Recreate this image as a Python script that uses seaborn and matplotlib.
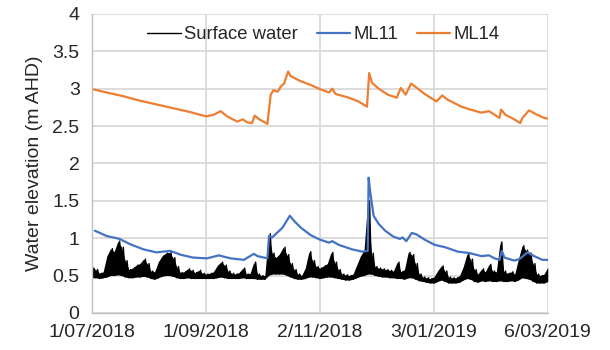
import numpy as np
import pandas as pd
import matplotlib
matplotlib.use("Agg")
import matplotlib.pyplot as plt
from matplotlib.ticker import FixedLocator, FuncFormatter
import seaborn as sns

# ---- data -------------------------------------------------------------
start_date = pd.Timestamp("2018-07-01")

# Surface water: envelope of the tidal signal, every 2 days (m AHD)
sw_days = list(range(0, 250, 2))
sw_high = [0.60, 0.58, 0.53, 0.55, 0.76, 0.86, 0.82, 0.96, 0.88, 0.70,
           0.58, 0.60, 0.64, 0.66, 0.72, 0.66, 0.56, 0.55, 0.68, 0.76,
           0.80, 0.81, 0.74, 0.62, 0.54, 0.55, 0.59, 0.57, 0.54, 0.57,
           0.53, 0.52, 0.53, 0.55, 0.63, 0.68, 0.64, 0.56, 0.53, 0.52,
           0.54, 0.60, 0.52, 0.53, 0.68, 0.52, 0.50, 0.50, 1.06, 0.80,
           0.74, 0.79, 0.88, 0.78, 0.66, 0.58, 0.52, 0.50, 0.60, 0.82,
           0.70, 0.62, 0.60, 0.63, 0.66, 0.81, 0.68, 0.58, 0.52, 0.51,
           0.50, 0.52, 0.64, 0.76, 0.84, 1.50, 0.80, 0.62, 0.60, 0.59,
           0.58, 0.57, 0.56, 0.68, 0.55, 0.58, 0.81, 0.78, 0.66, 0.52,
           0.48, 0.47, 0.46, 0.48, 0.56, 0.63, 0.56, 0.48, 0.47, 0.47,
           0.50, 0.62, 0.79, 0.72, 0.58, 0.52, 0.59, 0.55, 0.65, 0.56,
           0.55, 0.95, 0.56, 0.53, 0.55, 0.52, 0.72, 0.90, 0.84, 0.80,
           0.66, 0.52, 0.50, 0.52, 0.61]
sw_low = [0.47, 0.47, 0.46, 0.47, 0.48, 0.50, 0.50, 0.51, 0.50, 0.48,
          0.47, 0.47, 0.48, 0.48, 0.49, 0.48, 0.46, 0.45, 0.47, 0.49,
          0.50, 0.50, 0.49, 0.47, 0.46, 0.46, 0.47, 0.46, 0.46, 0.46,
          0.46, 0.46, 0.46, 0.46, 0.47, 0.48, 0.47, 0.46, 0.46, 0.46,
          0.46, 0.47, 0.46, 0.46, 0.46, 0.45, 0.45, 0.45, 0.50, 0.52,
          0.52, 0.52, 0.52, 0.50, 0.48, 0.46, 0.45, 0.45, 0.46, 0.48,
          0.48, 0.47, 0.46, 0.47, 0.48, 0.48, 0.47, 0.46, 0.45, 0.44,
          0.44, 0.45, 0.47, 0.49, 0.50, 0.52, 0.52, 0.50, 0.49, 0.48,
          0.48, 0.47, 0.47, 0.46, 0.46, 0.45, 0.47, 0.47, 0.45, 0.43,
          0.42, 0.41, 0.40, 0.40, 0.42, 0.44, 0.42, 0.40, 0.40, 0.40,
          0.41, 0.44, 0.46, 0.45, 0.42, 0.41, 0.43, 0.42, 0.43, 0.42,
          0.42, 0.43, 0.42, 0.42, 0.43, 0.42, 0.44, 0.47, 0.46, 0.45,
          0.42, 0.40, 0.40, 0.40, 0.42]

# ML11 bore
ml11_days = [1.5, 3.3, 7.8, 13.3, 15, 20.6, 28, 35, 42.5, 48, 55, 62.6, 69,
             75.3, 82.6, 88, 90, 95.4, 96.3, 98, 101, 103.6, 107.6, 110,
             113.6, 119, 124, 129, 130.7, 134.3, 141.5, 147, 150, 150.5,
             151.4, 153.2, 156, 159.5, 164, 167.6, 168.9, 171, 174, 176.6,
             181, 186.5, 192, 199, 205.5, 211.8, 216, 219, 221.7, 223,
             224.4, 229.8, 232.5, 237, 240.6, 245, 248]
ml11_vals = [1.10, 1.08, 1.03, 1.00, 0.99, 0.92, 0.85, 0.81, 0.83, 0.78,
             0.74, 0.73, 0.77, 0.73, 0.71, 0.79, 0.76, 0.73, 1.03, 1.01,
             1.08, 1.14, 1.30, 1.23, 1.14, 1.04, 0.98, 0.94, 0.96, 0.91,
             0.85, 0.82, 0.83, 1.81, 1.61, 1.30, 1.19, 1.10, 1.02, 0.99,
             1.01, 0.96, 1.07, 1.05, 0.98, 0.91, 0.88, 0.82, 0.80, 0.76,
             0.77, 0.73, 0.71, 0.83, 0.74, 0.70, 0.72, 0.81, 0.76, 0.71,
             0.71]

# ML14 bore
ml14_days = [1, 6, 17, 26, 35, 44, 53, 62, 66, 70, 73.5, 79, 82, 84.5, 87,
             88.5, 91, 95.4, 97.2, 98.7, 101, 102.7, 104.5, 105.4, 106.7,
             108, 113.6, 119, 124.5, 129, 130.7, 132.5, 139.7, 145, 149.6,
             150.8, 152.3, 156, 161, 165.8, 168, 170.7, 173.6, 175.7, 181,
             187.4, 190.5, 193.7, 201, 206, 211.8, 216, 221.7, 222.6, 225,
             229.8, 233, 234.2, 237.8, 242.3, 246, 248]
ml14_vals = [2.99, 2.96, 2.90, 2.84, 2.79, 2.74, 2.69, 2.63, 2.65, 2.70,
             2.63, 2.56, 2.59, 2.55, 2.54, 2.64, 2.59, 2.53, 2.92, 2.98,
             2.96, 3.03, 3.07, 3.14, 3.23, 3.17, 3.10, 3.05, 2.99, 2.95,
             3.00, 2.93, 2.88, 2.83, 2.76, 3.21, 3.08, 3.00, 2.92, 2.88,
             3.01, 2.92, 3.07, 3.03, 2.93, 2.83, 2.91, 2.85, 2.76, 2.72,
             2.68, 2.70, 2.61, 2.72, 2.65, 2.59, 2.54, 2.61, 2.71, 2.65,
             2.61, 2.60]

tick_dates = ["2018-07-01", "2018-09-01", "2018-11-02", "2019-01-03", "2019-03-06"]
tick_labels = ["1/07/2018", "1/09/2018", "2/11/2018", "3/01/2019", "6/03/2019"]
y_ticks = [0, 0.5, 1, 1.5, 2, 2.5, 3, 3.5, 4]

# ---- frames -----------------------------------------------------------
def to_dates(days):
    return start_date + pd.to_timedelta(days, unit="D")

# Tidal trace: each low is followed by the high a day later
sw_trace_days, sw_trace_vals = [], []
for d, lo, hi in zip(sw_days, sw_low, sw_high):
    sw_trace_days += [d, d + 1]
    sw_trace_vals += [lo, hi]
sw_env = pd.DataFrame({"date": to_dates(sw_days), "low": sw_low, "high": sw_high})
sw = pd.DataFrame({"date": to_dates(sw_trace_days), "level": sw_trace_vals})
ml11 = pd.DataFrame({"date": to_dates(ml11_days), "level": ml11_vals})
ml14 = pd.DataFrame({"date": to_dates(ml14_days), "level": ml14_vals})

# ---- style ------------------------------------------------------------
sns.set_theme(style="white")
plt.rcParams["font.family"] = ["Liberation Sans", "DejaVu Sans"]
FS = 14
grid_c = "#d9d9d9"

fig = plt.figure(figsize=(6.1, 3.5), dpi=100)
ax = fig.add_axes([0.151, 0.106, 0.747, 0.854])

black, blue, orange = "#000000", "#4472C4", "#ED7D31"

# dense tidal band plus the raw trace on top
ax.fill_between(sw_env["date"], sw_env["low"], sw_env["high"],
                color=black, lw=0, zorder=2)
sns.lineplot(data=sw, x="date", y="level", color=black, lw=1.0, ax=ax,
             label="Surface water", zorder=2, sort=False)
sns.lineplot(data=ml11, x="date", y="level", color=blue, lw=1.6, ax=ax,
             label="ML11", zorder=3)
sns.lineplot(data=ml14, x="date", y="level", color=orange, lw=1.6, ax=ax,
             label="ML14", zorder=3)

# ---- axes -------------------------------------------------------------
x0, x1 = pd.Timestamp(tick_dates[0]), pd.Timestamp(tick_dates[-1])
ax.set_xlim(x0, x1)
ax.set_ylim(0, 4)
ax.set_xticks(pd.to_datetime(tick_dates))
ax.set_xticklabels(tick_labels, fontsize=FS)
ax.yaxis.set_major_locator(FixedLocator(y_ticks))
ax.yaxis.set_major_formatter(FuncFormatter(lambda v, p: f"{v:g}"))
ax.tick_params(axis="y", labelsize=FS, length=0, pad=9)
ax.tick_params(axis="x", labelsize=FS, length=0, pad=8)
ax.set_xlabel("")
ax.set_ylabel("Water elevation (m AHD)", fontsize=FS, labelpad=7)

ax.grid(True, color=grid_c, lw=1.3, zorder=0)
ax.set_axisbelow(True)
for side in ["top", "right"]:
    ax.spines[side].set_visible(False)
for side in ["left", "bottom"]:
    ax.spines[side].set_color("#bfbfbf")
    ax.spines[side].set_linewidth(1.0)

ax.legend(loc="upper center", bbox_to_anchor=(0.508, 1.015), ncol=3,
          frameon=False, fontsize=13.3, handlelength=1.8, handletextpad=0.2,
          columnspacing=1.0)

fig.savefig("out.png", dpi=100)
